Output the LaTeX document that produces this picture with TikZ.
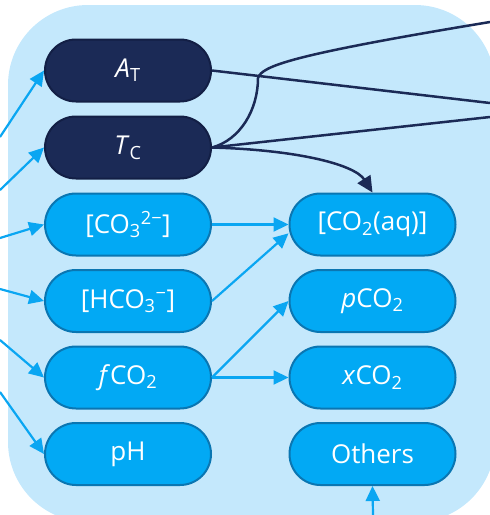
\documentclass[tikz,border=0pt]{standalone}
\usepackage{fontspec}
\setmainfont{Open Sans}
\usetikzlibrary{arrows.meta}
\definecolor{panel}{HTML}{C4E8FC}
\definecolor{navy}{HTML}{1B2A56}
\definecolor{navyline}{HTML}{131F45}
\definecolor{sky}{HTML}{02A9F4}
\definecolor{skyline}{HTML}{0A76B2}
\definecolor{skyedge}{HTML}{0AA6F2}
\begin{document}
\begin{tikzpicture}[x=1pt,y=-1pt,
  box/.style={rounded corners=31pt, minimum width=166pt, minimum height=62pt,
    line width=2pt, text=white, font=\fontsize{26}{30}\selectfont, inner sep=0pt},
  darkbox/.style={box, fill=navy, draw=navyline},
  lightbox/.style={box, fill=sky, draw=skyline},
  darkedge/.style={draw=navy, line width=2.5pt},
  darkarrow/.style={darkedge, -{Triangle[length=16pt,width=15pt]}},
  lightarrow/.style={draw=skyedge, line width=2.2pt, -{Triangle[length=15pt,width=14pt]}},
]
\useasboundingbox (0,0) rectangle (490,515);
\begin{scope}
\clip (0,0) rectangle (490,515);
\fill[panel, rounded corners=80pt] (8,5) rectangle (495,522);
\end{scope}

% left column
\node[darkbox]  (aT)   at (128,70.5)  {\textit{A}\textsubscript{T}};
\node[darkbox]  (tC)   at (128,147.5) {\textit{T}\textsubscript{C}};
\node[lightbox] (co3)  at (128,224.5) {[CO\textsubscript{3}\textsuperscript{2−}]};
\node[lightbox] (hco3) at (128,301)   {[HCO\textsubscript{3}\textsuperscript{−}]};
\node[lightbox] (fco2) at (128,377.5) {\textit{f}CO\textsubscript{2}};
\node[lightbox] (ph)   at (128,454)   {pH};
% right column
\node[lightbox] (co2aq)  at (372.5,224.5) {[CO\textsubscript{2}(aq)]};
\node[lightbox] (pco2)   at (372.5,301)   {\textit{p}CO\textsubscript{2}};
\node[lightbox] (xco2)   at (372.5,377.5) {\textit{x}CO\textsubscript{2}};
\node[lightbox] (others) at (372.5,454)   {Others};

% free ends
\coordinate (inA) at (0,137);
\coordinate (inT) at (0,190);
\coordinate (inC) at (0,238);
\coordinate (inH) at (0,289);
\coordinate (inF) at (0,340);
\coordinate (inP) at (0,392);
\coordinate (inO) at (373,515);
\coordinate (outA) at (490,103);
\coordinate (outT1) at (490,22);
\coordinate (outT2) at (490,117);

% incoming arrows
\draw[lightarrow] (inA) -- (aT.west);
\draw[lightarrow] (inT) -- (tC.west);
\draw[lightarrow] (inC) -- (co3.west);
\draw[lightarrow] (inH) -- (hco3.west);
\draw[lightarrow] (inF) -- (fco2.west);
\draw[lightarrow] (inP) -- (ph.west);
\draw[lightarrow] (inO) -- (others.south);

% dark outgoing
\draw[darkedge] (aT.east) -- (outA);
\draw[darkedge] (tC.east) -- (outT2);
\draw[darkedge] (tC.east) .. controls (240,140) and (258,110) .. (258,78)
   .. controls (262,66) and (290,55) .. (outT1);
\draw[darkarrow] (tC.east) .. controls (300,150) and (355,165) .. (co2aq.north);

% internal light arrows
\draw[lightarrow] (co3.east) -- (co2aq.west);
\draw[lightarrow] (hco3.east) -- (co2aq.186);
\draw[lightarrow] (fco2.east) -- (pco2.west);
\draw[lightarrow] (fco2.east) -- (xco2.west);
\end{tikzpicture}
\end{document}
